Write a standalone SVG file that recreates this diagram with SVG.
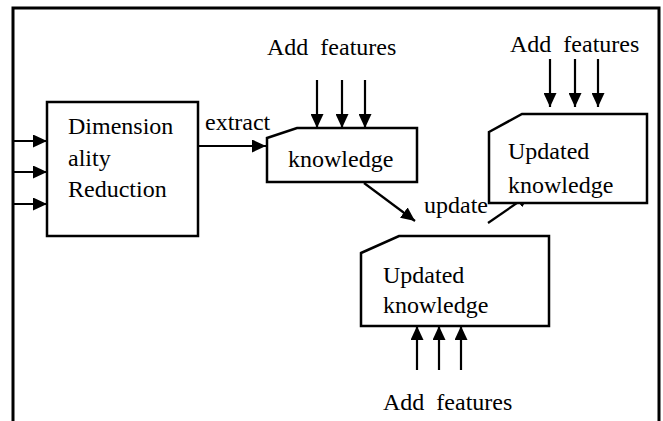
<svg xmlns="http://www.w3.org/2000/svg" width="663" height="421" viewBox="0 0 663 421">
  <style>
    .frame { fill: none; stroke: #000; stroke-width: 3; }
    .box { fill: #fff; stroke: #000; stroke-width: 2.5; }
    .wire { fill: none; stroke: #000; stroke-width: 2.2; marker-end: url(#head); }
    .feat { word-spacing: 6px; }
  </style>
  <defs>
    <marker id="head" markerUnits="userSpaceOnUse" markerWidth="15" markerHeight="13" refX="14" refY="6.5" orient="auto">
      <path d="M0,0 L14,6.5 L0,13 z" fill="#000"/>
    </marker>
    <clipPath id="clipTop"><rect x="489" y="110" width="158" height="93"/></clipPath>
    <clipPath id="clipMid"><rect x="361" y="230" width="188" height="96"/></clipPath>
  </defs>

  <rect width="663" height="421" fill="#fff"/>

  <!-- open frame: top, left and right sides -->
  <path class="frame" d="M13,421 V8 H659 V421"/>

  <g id="connectors">
    <!-- inputs into the reduction block -->
    <line class="wire" x1="13" y1="141" x2="47" y2="141"/>
    <line class="wire" x1="13" y1="172" x2="47" y2="172"/>
    <line class="wire" x1="13" y1="204" x2="47" y2="204"/>
    <!-- extract -->
    <line class="wire" x1="198" y1="146" x2="266" y2="146"/>
    <!-- features into knowledge -->
    <line class="wire" x1="317" y1="80" x2="317" y2="128"/>
    <line class="wire" x1="342" y1="80" x2="342" y2="128"/>
    <line class="wire" x1="365" y1="80" x2="365" y2="128"/>
    <!-- knowledge to updated knowledge -->
    <line class="wire" x1="364" y1="183" x2="415" y2="221"/>
    <!-- updated knowledge to next update (head sits behind the box) -->
    <line class="wire" x1="488" y1="223" x2="530" y2="194"/>
    <!-- features into the top-right block -->
    <line class="wire" x1="550" y1="59" x2="550" y2="107"/>
    <line class="wire" x1="575" y1="59" x2="575" y2="107"/>
    <line class="wire" x1="598" y1="59" x2="598" y2="107"/>
    <!-- features into the middle block from below -->
    <line class="wire" x1="417" y1="370" x2="417" y2="326"/>
    <line class="wire" x1="439" y1="370" x2="439" y2="326"/>
    <line class="wire" x1="461" y1="370" x2="461" y2="326"/>
  </g>

  <g font-family="Liberation Serif, Times New Roman, serif" font-size="24" fill="#000">
    <g id="reduction">
      <rect class="box" x="47" y="102" width="151" height="134"/>
      <text x="68" y="134">Dimension</text>
      <text x="68" y="166">ality</text>
      <text x="68" y="197">Reduction</text>
    </g>

    <g id="knowledge">
      <path class="box" d="M267,138 L297,128 H417 V182 H267 Z"/>
      <text x="288" y="167">knowledge</text>
    </g>

    <g id="updated-top">
      <path class="box" d="M489,132 L522,114 H647 V203 H489 Z"/>
      <g clip-path="url(#clipTop)">
        <text x="508" y="159">Updated</text>
        <text x="508" y="193">knowledge</text>
      </g>
    </g>

    <g id="updated-mid">
      <path class="box" d="M361,253 L399,236 H549 V326 H361 Z"/>
      <g clip-path="url(#clipMid)">
        <text x="383" y="283">Updated</text>
        <text x="383" y="313">knowledge</text>
      </g>
    </g>

    <g id="labels">
      <text x="205" y="130">extract</text>
      <text x="424" y="213">update</text>
      <text class="feat" x="267" y="55">Add features</text>
      <text class="feat" x="510" y="52">Add features</text>
      <text class="feat" x="383" y="410">Add features</text>
    </g>
  </g>
</svg>
